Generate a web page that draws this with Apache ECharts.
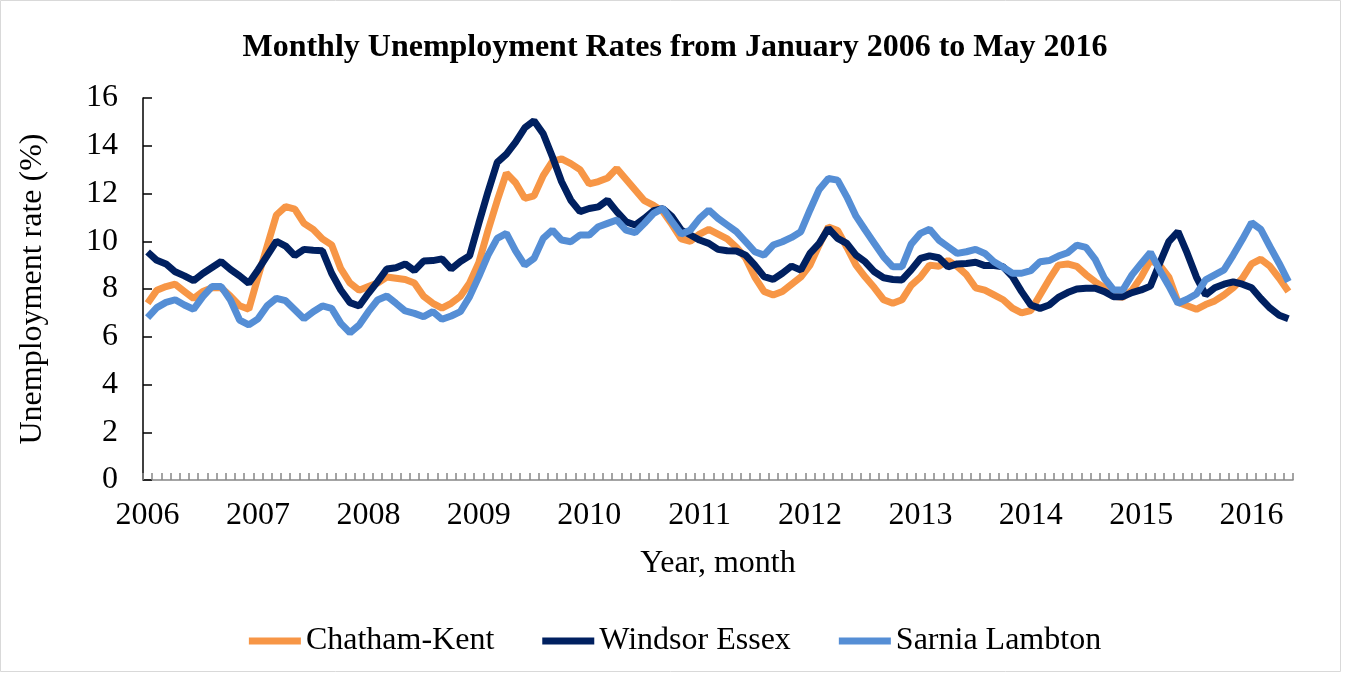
<!DOCTYPE html>
<html lang="en">
<head>
    <meta http-equiv="Content-Type" content="text/html; charset=UTF-8">
    <title>Monthly Unemployment Rates</title>
    <script type="text/javascript" src="https://cdn.jsdelivr.net/npm/echarts@6/dist/echarts.min.js"></script>
</head>

<body style="margin: 0; width: 1350px; height: 677px; background: #fff">
<div id="main" style="width: 1350px; height: 677px"></div>
<script type="text/javascript">
    // Jan 2006 .. May 2016, one value per month
    var years = ['2006', '2007', '2008', '2009', '2010', '2011', '2012', '2013', '2014', '2015', '2016'];
    var monthCount = 125;

    var chathamKent = [
        7.4, 7.95, 8.1, 8.2, 7.9, 7.6, 7.9, 8.05, 8.05, 7.7, 7.3, 7.15,
        8.5, 9.8, 11.1, 11.45, 11.35, 10.75, 10.5, 10.1, 9.85, 8.85, 8.25, 7.95,
        8.1, 8.25, 8.5, 8.45, 8.4, 8.25, 7.7, 7.4, 7.2, 7.4, 7.7, 8.25,
        9.1, 10.45, 11.7, 12.85, 12.45, 11.8, 11.9, 12.75, 13.35, 13.45, 13.25, 13.0,
        12.4, 12.5, 12.65, 13.05, 12.6, 12.15, 11.7, 11.5, 11.25, 10.7, 10.1, 10.0,
        10.3, 10.5, 10.3, 10.1, 9.75, 9.3, 8.5, 7.9, 7.75, 7.9, 8.2, 8.5,
        9.0, 9.85, 10.6, 10.45, 9.75, 9.0, 8.5, 8.05, 7.55, 7.4, 7.55, 8.15,
        8.5, 9.0, 8.95, 9.2, 8.95, 8.6, 8.05, 7.95, 7.75, 7.55, 7.2, 7.0,
        7.1, 7.75, 8.4, 9.0, 9.05, 8.95, 8.6, 8.3, 8.05, 7.7, 7.65, 7.95,
        8.5, 9.2, 9.0, 8.5, 7.45, 7.3, 7.15, 7.35, 7.5, 7.75, 8.05, 8.45,
        9.05, 9.25, 8.95, 8.45, 7.9
    ];

    var windsorEssex = [
        9.55, 9.2, 9.05, 8.72, 8.55, 8.35, 8.65, 8.9, 9.15, 8.82, 8.55, 8.24,
        8.8, 9.4, 10.0, 9.8, 9.4, 9.66, 9.62, 9.6, 8.66, 7.96, 7.43, 7.29,
        7.82, 8.31, 8.84, 8.89, 9.05, 8.77, 9.17, 9.19, 9.26, 8.84, 9.15, 9.39,
        10.75, 12.07, 13.3, 13.65, 14.15, 14.75, 15.05, 14.5, 13.54, 12.49, 11.72, 11.24,
        11.37, 11.44, 11.72, 11.24, 10.82, 10.68, 10.96, 11.28, 11.37, 11.03, 10.47, 10.26,
        10.05, 9.91, 9.66, 9.6, 9.59, 9.42, 9.0, 8.52, 8.4, 8.66, 8.96, 8.79,
        9.49, 9.91, 10.54, 10.12, 9.91, 9.42, 9.14, 8.72, 8.47, 8.4, 8.38, 8.8,
        9.28, 9.39, 9.31, 8.93, 9.05, 9.07, 9.12, 8.98, 8.98, 8.93, 8.52, 7.89,
        7.33, 7.19, 7.33, 7.65, 7.85, 8.0, 8.03, 8.03, 7.89, 7.68, 7.68, 7.85,
        7.96, 8.12, 9.07, 9.98, 10.4, 9.5, 8.5, 7.75, 8.05, 8.2, 8.3, 8.2,
        8.05, 7.6, 7.2, 6.9, 6.75
    ];

    var sarniaLambton = [
        6.8, 7.22, 7.44, 7.55, 7.33, 7.15, 7.68, 8.1, 8.1, 7.54, 6.7, 6.5,
        6.75, 7.3, 7.61, 7.51, 7.13, 6.75, 7.05, 7.29, 7.19, 6.56, 6.17, 6.49,
        7.05, 7.54, 7.71, 7.4, 7.08, 6.98, 6.84, 7.05, 6.73, 6.87, 7.05, 7.68,
        8.52, 9.42, 10.12, 10.33, 9.6, 9.0, 9.28, 10.12, 10.47, 10.05, 9.98, 10.26,
        10.26, 10.61, 10.75, 10.89, 10.47, 10.36, 10.75, 11.17, 11.38, 10.82, 10.3, 10.47,
        10.96, 11.31, 10.96, 10.68, 10.4, 9.98, 9.56, 9.42, 9.84, 9.98, 10.16, 10.4,
        11.31, 12.17, 12.63, 12.56, 11.86, 11.05, 10.47, 9.91, 9.35, 8.93, 8.93, 9.88,
        10.33, 10.5, 10.05, 9.77, 9.49, 9.56, 9.66, 9.49, 9.14, 8.91, 8.66, 8.66,
        8.77, 9.14, 9.19, 9.38, 9.52, 9.84, 9.74, 9.24, 8.45, 7.96, 7.96, 8.59,
        9.07, 9.53, 8.8, 8.13, 7.4, 7.57, 7.79, 8.38, 8.59, 8.8, 9.42, 10.08,
        10.78, 10.5, 9.77, 9.07, 8.31
    ];

    var months = [];
    for (var i = 0; i < monthCount; i++) {
        months.push(years[Math.floor(i / 12)] + '-' + (i % 12 + 1));
    }

    var serif = '"Liberation Serif", "DejaVu Serif", serif';

    var myChart = echarts.init(document.getElementById('main'));

    myChart.setOption({
        animation: false,
        backgroundColor: '#fff',
        title: {
            text: 'Monthly Unemployment Rates from January 2006 to May 2016',
            left: 'center',
            top: 27,
            textStyle: {
                fontFamily: serif,
                fontWeight: 'bold',
                fontSize: 32,
                color: '#000'
            }
        },
        graphic: [{
            type: 'rect',
            shape: { x: 0.5, y: 0.5, width: 1340, height: 671 },
            style: { fill: 'none', stroke: '#d9d9d9', lineWidth: 1 },
            silent: true
        }],
        legend: {
            data: ['Chatham-Kent', 'Windsor Essex', 'Sarnia Lambton'],
            left: 'center',
            top: 620,
            icon: 'rect',
            itemWidth: 52,
            itemHeight: 7,
            itemGap: 48,
            textStyle: {
                fontFamily: serif,
                fontSize: 32,
                color: '#000'
            }
        },
        grid: {
            left: 143,
            right: 57,
            top: 98,
            bottom: 197
        },
        xAxis: {
            type: 'category',
            data: months,
            boundaryGap: true,
            name: 'Year, month',
            nameLocation: 'middle',
            nameGap: 68,
            nameTextStyle: {
                fontFamily: serif,
                fontSize: 32,
                color: '#000'
            },
            axisLine: { lineStyle: { color: '#868686', width: 1.5 } },
            axisTick: {
                show: true,
                inside: true,
                length: 7,
                interval: 0,
                lineStyle: { color: '#868686', width: 1.5 }
            },
            axisLabel: {
                interval: function (index) { return index % 12 === 0; },
                formatter: function (value) { return value.split('-')[0]; },
                margin: 20,
                fontFamily: serif,
                fontSize: 32,
                color: '#000'
            },
            splitLine: { show: false }
        },
        yAxis: {
            type: 'value',
            min: 0,
            max: 16,
            interval: 2,
            name: 'Unemployment rate (%)',
            nameLocation: 'middle',
            nameGap: 94,
            nameTextStyle: {
                fontFamily: serif,
                fontSize: 32,
                color: '#000'
            },
            axisLine: { show: true, lineStyle: { color: '#000', width: 1.5 } },
            axisTick: {
                show: true,
                inside: true,
                length: 9,
                lineStyle: { color: '#000', width: 1.5 }
            },
            axisLabel: {
                margin: 25,
                fontFamily: serif,
                fontSize: 32,
                color: '#000'
            },
            splitLine: { show: false }
        },
        series: [{
            name: 'Chatham-Kent',
            type: 'line',
            data: chathamKent,
            showSymbol: false,
            color: '#F79646',
            lineStyle: { width: 7, color: '#F79646' }
        }, {
            name: 'Windsor Essex',
            type: 'line',
            data: windsorEssex,
            showSymbol: false,
            color: '#002060',
            lineStyle: { width: 7, color: '#002060' }
        }, {
            name: 'Sarnia Lambton',
            type: 'line',
            data: sarniaLambton,
            showSymbol: false,
            color: '#558ED5',
            lineStyle: { width: 7, color: '#558ED5' }
        }]
    });
</script>
</body>
</html>
